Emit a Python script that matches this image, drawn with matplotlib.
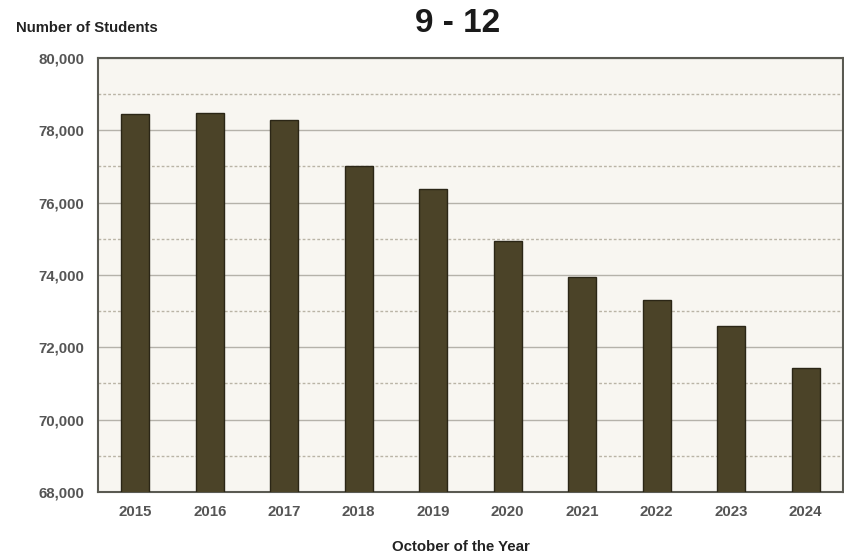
import matplotlib
matplotlib.use("Agg")
import matplotlib.pyplot as plt
from matplotlib.ticker import FuncFormatter, MultipleLocator

years = ["2015", "2016", "2017", "2018", "2019", "2020", "2021", "2022", "2023", "2024"]
students = [78450, 78480, 78290, 77010, 76380, 74940, 73940, 73310, 72590, 71440]
y_ticks = [68000, 70000, 72000, 74000, 76000, 78000, 80000]

plt.rcParams['font.family'] = ['Liberation Sans', 'DejaVu Sans']

fig = plt.figure(figsize=(8.45, 5.56), dpi=100)
fig.patch.set_facecolor("white")
ax = fig.add_axes([98/845, 1 - 492/556, (843-98)/845, (492-58)/556])
ax.set_facecolor("#f8f6f1")

x = list(range(len(years)))
ax.bar(x, students, width=0.38, color="#4b4328", edgecolor="#2b2616", linewidth=1.0, zorder=3)

ax.set_xlim(-0.5, len(years) - 0.5)
ax.set_ylim(68000, 80000)
ax.set_yticks(y_ticks)
ax.yaxis.set_major_formatter(FuncFormatter(lambda v, p: f"{int(v):,}"))
ax.yaxis.set_minor_locator(MultipleLocator(1000))
ax.set_xticks(x)
ax.set_xticklabels(years)

ax.grid(axis="y", which="major", color="#b5b2aa", linewidth=1.0, linestyle="-", zorder=0)
ax.grid(axis="y", which="minor", color="#bab4a6", linewidth=1.0, linestyle=(0, (2, 1.5)), zorder=0)

for s in ax.spines.values():
    s.set_color("#5a5a52")
    s.set_linewidth(1.5)

ax.tick_params(axis="both", which="both", length=0, colors="#555555")
for lab in ax.get_yticklabels():
    lab.set_fontweight("bold")
    lab.set_fontsize(10.8)
    lab.set_color("#555555")
for lab in ax.get_xticklabels():
    lab.set_fontweight("bold")
    lab.set_fontsize(10.8)
    lab.set_color("#555555")
ax.tick_params(axis="y", pad=10)
ax.tick_params(axis="x", pad=9)

fig.text(16/845, 1 - 28/556, "Number of Students", fontsize=10.7, fontweight="bold",
         color="#222222", ha="left", va="center")
fig.text(458/845, 1 - 24/556, "9 - 12", fontsize=24, fontweight="bold",
         color="#1a1a1a", ha="center", va="center")
fig.text(461/845, 1 - 547/556, "October of the Year", fontsize=10.8, fontweight="bold",
         color="#222222", ha="center", va="center")

fig.savefig("out.png", dpi=100, facecolor="white")
